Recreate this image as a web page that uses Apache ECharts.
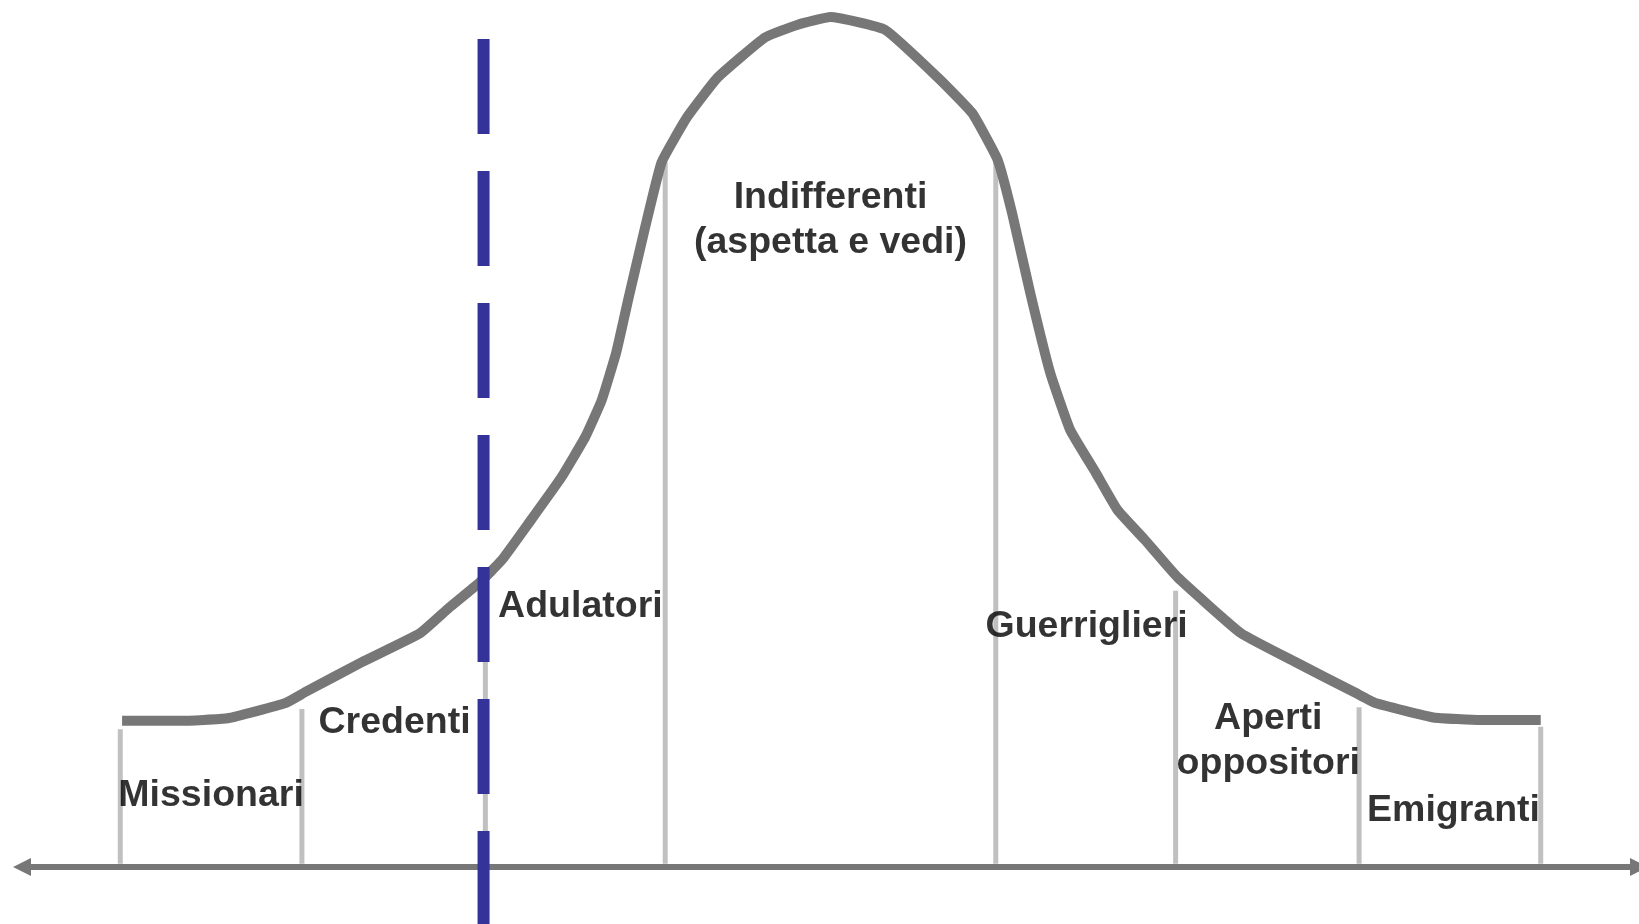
<!DOCTYPE html>
<html>
<head>
<meta charset="utf-8">
<title>Curva di adozione</title>
<script src="https://cdn.jsdelivr.net/npm/echarts@6/dist/echarts.min.js"></script>
<style>
  html, body { margin: 0; padding: 0; background: #fff; }
  #chart1 { width: 1639px; height: 924px; }
</style>
</head>
<body>
<div id="chart1"></div>
<script>
// curva (posizione sull'asse, altezza)
const curveX = [-3.90, -3.58, -3.32, -3.00, -2.89, -2.58, -2.26, -2.10, -1.93, -1.81,
  -1.66, -1.48, -1.35, -1.26, -1.18, -1.11, -1.02, -0.93, -0.79, -0.62, -0.36, -0.18, 0.00,
  0.30, 0.59, 0.78, 0.92, 1.00, 1.10, 1.21, 1.32, 1.46, 1.58, 1.73, 1.91, 2.26, 2.57,
  2.89, 3.00, 3.32, 3.58, 3.91];
const curveY = [17.2, 17.2, 17.5, 19.3, 20.6, 24.1, 27.5, 30.5, 33.5, 36.1,
  40.5, 45.9, 50.6, 54.9, 60.5, 67.1, 75.3, 82.9, 88.2, 92.9, 97.6, 99.1, 100.0,
  98.5, 92.9, 88.7, 83.2, 76.9, 67.5, 58.1, 51.4, 46.4, 42.0, 38.5, 34.1, 27.5, 24.0,
  20.5, 19.3, 17.6, 17.3, 17.3];

// linee di separazione tra i gruppi
const boundaryX = [-3.91, -2.91, -1.9, -0.91, 0.91, 1.9, 2.91, 3.91];
const boundaryTop = [16.2, 18.6, 33.0, 82.9, 82.9, 32.5, 18.8, 16.5];

// soglia tratteggiata
const thresholdX = -1.91;
const thresholdRange = [97.4, -6.7];

// etichette dei gruppi
const labelNames = ['Missionari', 'Credenti', 'Adulatori', 'Indifferenti\n(aspetta e vedi)',
  'Guerriglieri', 'Aperti\noppositori', 'Emigranti'];
const labelX = [-3.41, -2.40, -1.83, 0.0, 1.41, 2.41, 3.43];
const labelY = [8.4, 17.0, 30.6, 76.1, 28.3, 14.8, 6.6];
const labelAlign = ['center', 'center', 'left', 'center', 'center', 'center', 'center'];

const chart1 = echarts.init(document.getElementById('chart1'));

const boundarySeries = boundaryX.map((x, i) => ({
  type: 'line',
  data: [[x, boundaryTop[i]], [x, 0.4]],
  symbol: 'none',
  lineStyle: { color: '#c0c0c0', width: 5 },
  z: 2
}));

const option = {
  animation: false,
  backgroundColor: '#ffffff',
  grid: { left: 22, right: -3, top: 0, bottom: 0 },
  xAxis: {
    type: 'value',
    min: -4.451,
    max: 4.451,
    axisLine: {
      show: true,
      onZero: true,
      symbol: ['triangle', 'triangle'],
      symbolSize: [18, 18],
      lineStyle: { color: '#777777', width: 6 }
    },
    axisTick: { show: false },
    axisLabel: { show: false },
    splitLine: { show: false }
  },
  yAxis: {
    type: 'value',
    min: -6.7,
    max: 102,
    show: false,
    splitLine: { show: false }
  },
  series: [
    ...boundarySeries,
    {
      type: 'line',
      data: curveX.map((x, i) => [x, curveY[i]]),
      symbol: 'none',
      smooth: 0.12,
      lineStyle: { color: '#777777', width: 10, join: 'round' },
      z: 3
    },
    {
      type: 'line',
      data: [[thresholdX, thresholdRange[0]], [thresholdX, thresholdRange[1]]],
      symbol: 'none',
      lineStyle: { color: '#333399', width: 12, type: [95, 37], cap: 'butt' },
      z: 4
    },
    {
      type: 'scatter',
      symbolSize: 0,
      data: labelNames.map((name, i) => ({
        name: name,
        value: [labelX[i], labelY[i]],
        label: { align: labelAlign[i] }
      })),
      label: {
        show: true,
        position: [0, 0],
        verticalAlign: 'middle',
        formatter: p => p.name,
        color: '#000000',
        fontFamily: '"Liberation Sans", Arial, sans-serif',
        fontWeight: 'bold',
        fontSize: 37.5,
        lineHeight: 45
      },
      z: 5
    }
  ]
};

chart1.setOption(option);
</script>
</body>
</html>
